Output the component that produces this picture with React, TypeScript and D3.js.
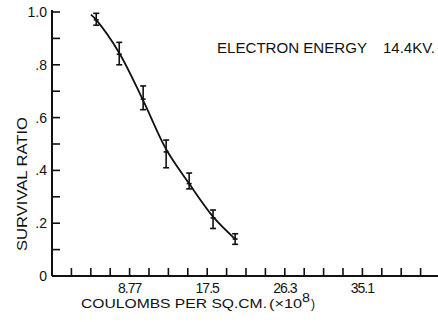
import { useEffect, useRef } from 'react'
import * as d3 from 'd3'

// coulombs per sq.cm (x10^8) vs survival ratio
const doses = [5.0, 7.6, 10.3, 12.9, 15.5, 18.2, 20.7]
const survival = [0.97, 0.84, 0.67, 0.47, 0.35, 0.22, 0.14]
const errLow = [0.95, 0.8, 0.63, 0.41, 0.33, 0.18, 0.12]
const errHigh = [0.995, 0.885, 0.72, 0.515, 0.39, 0.25, 0.16]
// hand-drawn fit curve
const curveX = [4.4, 5.0, 7.6, 10.3, 12.9, 15.5, 18.2, 20.7]
const curveY = [0.99, 0.97, 0.845, 0.665, 0.48, 0.35, 0.225, 0.14]
const xLabels = ['8.77', '17.5', '26.3', '35.1']
const yLabels = ['0', '.2', '.4', '.6', '.8', '1.0']

const W = 438, H = 322
const FONT = '"Liberation Sans", Arial, sans-serif'

export default function App() {
  const ref = useRef<SVGSVGElement>(null)

  useEffect(() => {
    const svg = d3.select(ref.current)
    svg.selectAll('*').remove()

    const step = 8.77
    const x = d3.scaleLinear().domain([0, step * 5]).range([52, 440])
    const y = d3.scaleLinear().domain([0, 1]).range([276, 12])
    const ink = '#111'

    // axes
    svg.append('line').attr('x1', x(0)).attr('x2', x(0)).attr('y1', y(1) - 2).attr('y2', y(0))
      .attr('stroke', ink).attr('stroke-width', 2)
    svg.append('line').attr('x1', x(0)).attr('x2', W).attr('y1', y(0)).attr('y2', y(0))
      .attr('stroke', ink).attr('stroke-width', 2)

    // y ticks every .1
    const yt = d3.range(0, 11).map(i => i / 10)
    svg.selectAll('line.yt').data(yt.slice(1)).join('line')
      .attr('x1', x(0)).attr('x2', x(0) + 8)
      .attr('y1', d => y(d)).attr('y2', d => y(d))
      .attr('stroke', ink).attr('stroke-width', 1.6)
    svg.selectAll('text.yl').data(yLabels).join('text')
      .attr('x', 47).attr('y', (_, i) => y(i * 0.2) + 5)
      .attr('text-anchor', 'end').attr('font-family', FONT).attr('font-size', 14)
      .attr('fill', ink).text(d => d)

    // x ticks every step/4
    const xt = d3.range(1, 21).map(i => i * step / 4)
    svg.selectAll('line.xt').data(xt).join('line')
      .attr('x1', d => x(d)).attr('x2', d => x(d))
      .attr('y1', y(0)).attr('y2', y(0) - 8)
      .attr('stroke', ink).attr('stroke-width', 1.6)
    svg.selectAll('text.xl').data(xLabels).join('text')
      .attr('x', (_, i) => x((i + 1) * step)).attr('y', 293)
      .attr('text-anchor', 'middle').attr('font-family', FONT).attr('font-size', 14)
      .attr('letter-spacing', -1).attr('fill', ink).text(d => d)

    // curve
    const line = d3.line<number>().x(d => x(curveX[d])).y(d => y(curveY[d])).curve(d3.curveCatmullRom)
    svg.append('path').attr('d', line(d3.range(curveX.length)))
      .attr('fill', 'none').attr('stroke', ink).attr('stroke-width', 1.8)

    // error bars
    const g = svg.append('g').attr('stroke', ink).attr('stroke-width', 1.6)
    doses.forEach((d, i) => {
      const cx = x(d)
      g.append('line').attr('x1', cx).attr('x2', cx).attr('y1', y(errLow[i])).attr('y2', y(errHigh[i]))
      g.append('line').attr('x1', cx - 3).attr('x2', cx + 3).attr('y1', y(errLow[i])).attr('y2', y(errLow[i]))
      g.append('line').attr('x1', cx - 3).attr('x2', cx + 3).attr('y1', y(errHigh[i])).attr('y2', y(errHigh[i]))
      g.append('line').attr('x1', cx - 2.5).attr('x2', cx + 2.5).attr('y1', y(survival[i])).attr('y2', y(survival[i]))
    })

    // annotation
    svg.append('text').attr('x', 217).attr('y', 53).attr('font-family', FONT).attr('font-size', 14)
      .attr('textLength', 150).attr('lengthAdjust', 'spacingAndGlyphs').attr('fill', ink).text('ELECTRON ENERGY')
    svg.append('text').attr('x', 383).attr('y', 53).attr('font-family', FONT).attr('font-size', 14)
      .attr('textLength', 52).attr('lengthAdjust', 'spacingAndGlyphs').attr('fill', ink).text('14.4KV.')

    // axis titles
    svg.append('text').attr('transform', 'translate(27,251) rotate(-90)')
      .attr('font-family', FONT).attr('font-size', 14).attr('textLength', 134)
      .attr('lengthAdjust', 'spacingAndGlyphs').attr('fill', ink).text('SURVIVAL RATIO')
    const tt = (t: string, xx: number, len: number, yy = 308, fs = 13) =>
      svg.append('text').attr('x', xx).attr('y', yy).attr('font-family', FONT).attr('font-size', fs)
        .attr('textLength', len).attr('lengthAdjust', 'spacingAndGlyphs').attr('fill', ink).text(t)
    tt('COULOMBS PER SQ.CM.', 81, 186)
    tt('(×10', 269, 33)
    tt('8', 302, 8, 302, 12)
    tt(')', 311, 4)
  }, [])

  return (
    <svg ref={ref} width={W} height={H}
      style={{ position: 'absolute', left: 0, top: 0, background: '#fff' }} />
  )
}
